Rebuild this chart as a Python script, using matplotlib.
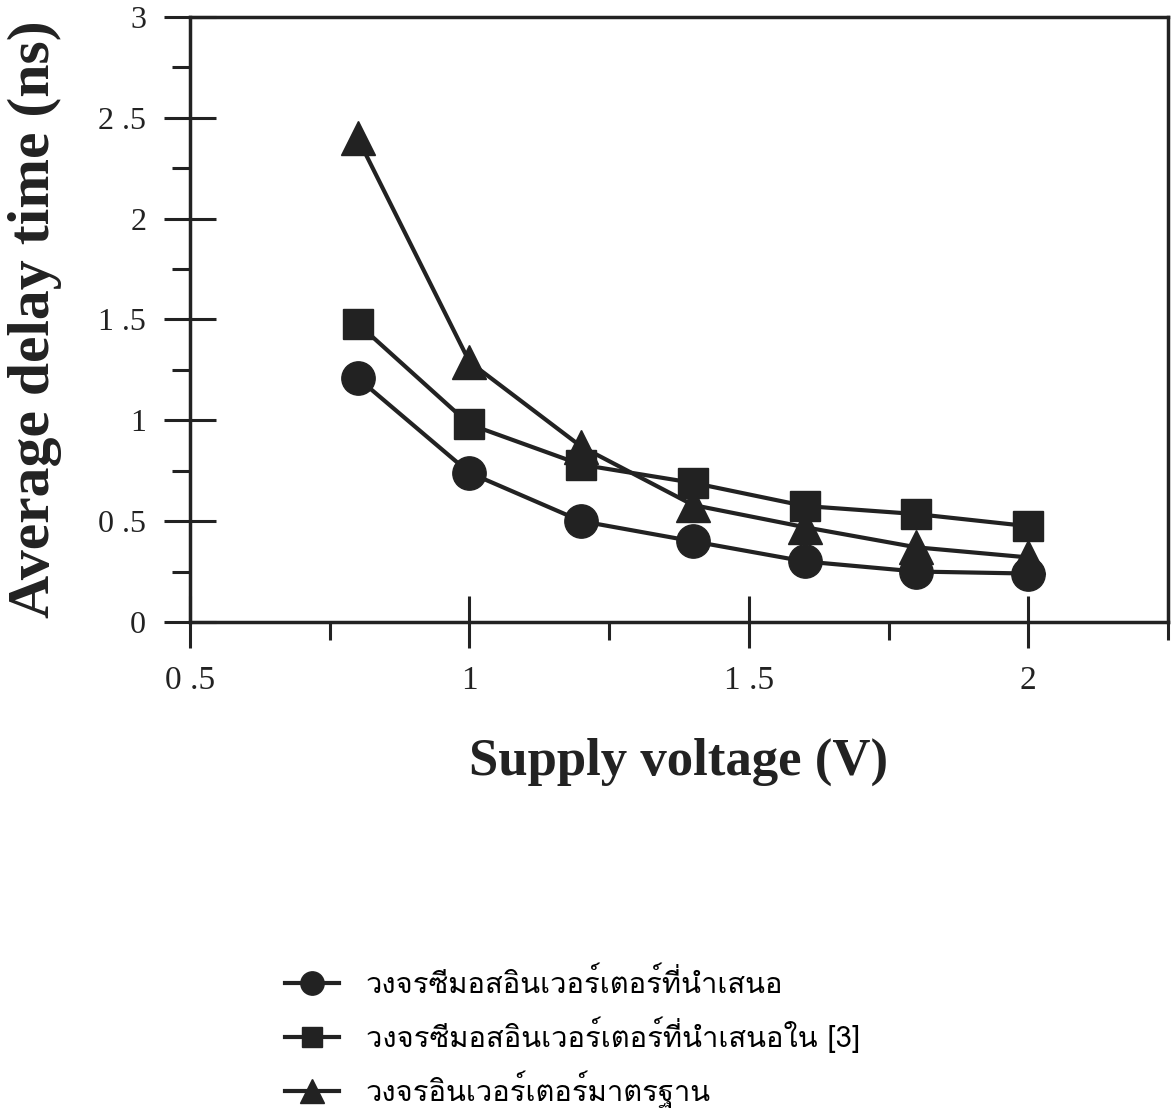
import matplotlib
matplotlib.use('Agg')
import matplotlib.pyplot as plt
from matplotlib import font_manager
from matplotlib.ft2font import FT2Font
from matplotlib.ticker import MultipleLocator, FixedLocator

# supply voltage (V)
voltage = [0.8, 1.0, 1.2, 1.4, 1.6, 1.8, 2.0]
# average delay time (ns)
delay_proposed = [1.21, 0.74, 0.50, 0.40, 0.30, 0.25, 0.24]
delay_ref3 = [1.48, 0.98, 0.78, 0.69, 0.575, 0.535, 0.475]
delay_standard = [2.40, 1.29, 0.87, 0.58, 0.47, 0.37, 0.32]

labels = [
    'วงจรซีมอสอินเวอร์เตอร์ที่นำเสนอ',
    'วงจรซีมอสอินเวอร์เตอร์ที่นำเสนอใน [3]',
    'วงจรอินเวอร์เตอร์มาตรฐาน',
]
x_ticks = [0.5, 1, 1.5, 2]
x_ticklabels = ['0 .5', '1', '1 .5', '2']
y_ticks = [0, 0.5, 1, 1.5, 2, 2.5, 3]
y_ticklabels = ['0', '0 .5', '1', '1 .5', '2', '2 .5', '3']


def find_thai_font():
    for fe in font_manager.fontManager.ttflist:
        try:
            if ord('ว') in FT2Font(fe.fname).get_charmap():
                return fe.name
        except Exception:
            pass
    return 'DejaVu Sans'


thai_font = find_thai_font()
serif = 'Liberation Serif'
ink = '#222222'

fig = plt.figure(figsize=(11.75, 11.19), dpi=100)
ax = fig.add_axes([0.1617, 0.4442, 0.8323, 0.5406])

series = [
    (delay_proposed, 'o', 24),
    (delay_ref3, 's', 21),
    (delay_standard, '^', 24),
]
for (vals, mk, ms), lab in zip(series, labels):
    ax.plot(voltage, vals, color=ink, lw=3, marker=mk, ms=ms,
            markerfacecolor=ink, markeredgecolor=ink, label=lab)

ax.set_xlim(0.5, 2.25)
ax.set_ylim(0, 3)
ax.xaxis.set_major_locator(FixedLocator(x_ticks))
ax.yaxis.set_major_locator(FixedLocator(y_ticks))
ax.xaxis.set_minor_locator(MultipleLocator(0.25))
ax.yaxis.set_minor_locator(MultipleLocator(0.25))
ax.set_xticklabels(x_ticklabels, fontfamily=serif, fontsize=24, color=ink)
ax.set_yticklabels(y_ticklabels, fontfamily=serif, fontsize=23, color=ink)

ax.tick_params(which='major', direction='inout', length=37, width=2.2, color=ink)
ax.tick_params(which='minor', direction='out', length=13, width=2.2, color=ink)
ax.tick_params(axis='y', which='major', pad=13)
ax.tick_params(axis='x', which='major', pad=13)
for s in ax.spines.values():
    s.set_linewidth(2.5)
    s.set_color(ink)

ax.set_ylabel('Average delay time (ns)', fontfamily=serif, fontweight='bold',
              fontsize=43, labelpad=26, color=ink)
ax.set_xlabel('Supply voltage (V)', fontfamily=serif, fontweight='bold',
              fontsize=38, labelpad=30, color=ink)

fig.legend(loc='upper left', bbox_to_anchor=(0.2205, 0.158), frameon=False,
           prop={'family': [thai_font, serif], 'size': 21},
           handlelength=1.85, handletextpad=0.9, labelspacing=0.6,
           markerscale=0.7)

fig.savefig('out.png', dpi=100, facecolor='white')
